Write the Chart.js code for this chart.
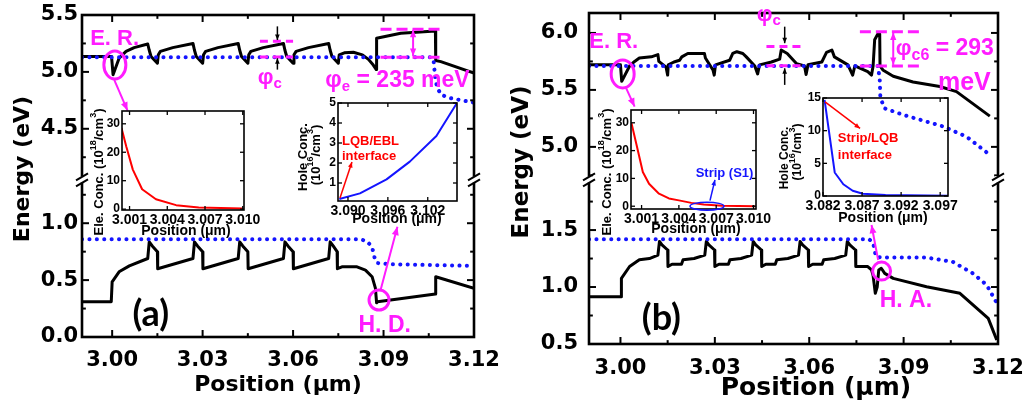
<!DOCTYPE html>
<html>
<head>
<meta charset="utf-8">
<script src="https://cdn.jsdelivr.net/npm/chart.js@4.4.1/dist/chart.umd.min.js"></script>
<style>
  body { margin: 0; background: #fff; }
  #fig { position: relative; width: 1033px; height: 410px; overflow: hidden; background: #fff; }
  #fig canvas { position: absolute; }
</style>
</head>
<body>
<div id="fig"></div>
<script>
// =======================================================
// DATA (positions in um, energies in eV, conc. in the inset units)
// =======================================================
const xTicksMain = [3.00, 3.03, 3.06, 3.09, 3.12];
const xMinorMain = [3.015, 3.045, 3.075, 3.105];

const yTicksA = [0.0, 0.5, 1.0, 4.5, 5.0, 5.5];
const yMinorA = [0.25, 0.75, 1.25, 4.25, 4.75, 5.25];
const yTicksB = [0.5, 1.0, 1.5, 5.0, 5.5, 6.0];
const yMinorB = [0.75, 1.25, 1.75, 4.75, 5.25, 5.75];

// panel (a) conduction band
const cbA_x = [2.990, 2.9998, 3.0003, 3.0023, 3.0046, 3.0073, 3.0118,
  3.0123, 3.0129, 3.0150, 3.0153, 3.0160, 3.0201, 3.0268,
  3.0273, 3.0279, 3.0300, 3.0303, 3.0310, 3.0351, 3.0418,
  3.0423, 3.0429, 3.0450, 3.0453, 3.0460, 3.0501, 3.0568,
  3.0573, 3.0579, 3.0600, 3.0603, 3.0610, 3.0651, 3.0718,
  3.0723, 3.0729, 3.0750, 3.0753, 3.0770, 3.0800, 3.0830, 3.0850, 3.0866, 3.0876,
  3.0877, 3.0957, 3.1072, 3.1073, 3.1090, 3.1200];
const cbA_e = [5.135, 5.135, 4.975, 5.120, 5.180, 5.213, 5.245,
  5.190, 5.135, 5.076, 5.150, 5.180, 5.213, 5.250,
  5.190, 5.135, 5.076, 5.150, 5.180, 5.213, 5.250,
  5.190, 5.135, 5.076, 5.150, 5.180, 5.213, 5.250,
  5.190, 5.135, 5.076, 5.150, 5.180, 5.213, 5.250,
  5.190, 5.135, 5.076, 5.150, 5.168, 5.172, 5.150, 5.110, 5.060, 5.020,
  5.295, 5.340, 5.360, 5.100, 5.090, 4.990];

// panel (a) valence band
const vbA_x = [2.990, 2.9997, 3.0000, 3.0023, 3.0057, 3.0118,
  3.0123, 3.0133, 3.0150, 3.0151, 3.0268,
  3.0273, 3.0283, 3.0300, 3.0301, 3.0418,
  3.0423, 3.0433, 3.0450, 3.0451, 3.0568,
  3.0573, 3.0583, 3.0600, 3.0601, 3.0718,
  3.0723, 3.0733, 3.0746, 3.0747,
  3.0762, 3.0812, 3.0840, 3.0862, 3.0873, 3.0877, 3.0880, 3.1072, 3.1073, 3.1200];
const vbA_e = [0.310, 0.310, 0.485, 0.573, 0.625, 0.690,
  0.836, 0.800, 0.750, 0.600, 0.690,
  0.836, 0.800, 0.750, 0.600, 0.690,
  0.836, 0.800, 0.750, 0.600, 0.690,
  0.836, 0.800, 0.750, 0.600, 0.690,
  0.836, 0.800, 0.750, 0.600,
  0.617, 0.617, 0.588, 0.530, 0.430, 0.300, 0.310, 0.377, 0.530, 0.427];

// panel (a) quasi-Fermi levels
const efA_x = [2.990, 3.1060, 3.1066, 3.1071, 3.1077, 3.1090, 3.1120, 3.1200];
const efA_e = [5.128, 5.128, 5.100, 4.960, 4.870, 4.800, 4.770, 4.730];
const hfA_x = [2.990, 3.0823, 3.0846, 3.0862, 3.0870, 3.0879, 3.0920, 3.1200];
const hfA_e = [0.860, 0.860, 0.840, 0.790, 0.700, 0.650, 0.640, 0.625];

// panel (b) conduction band
const cbB_x = [2.990, 3.0000, 3.0004, 3.0029, 3.0045, 3.0060, 3.0098, 3.0119,
  3.0122, 3.0145, 3.0150, 3.0152, 3.0170, 3.0188, 3.0195, 3.0214, 3.0267,
  3.0270, 3.0294, 3.0298, 3.0302, 3.0347, 3.0357, 3.0370, 3.0389, 3.0400,
  3.0427, 3.0436, 3.0442, 3.0480, 3.0506, 3.0511, 3.0530, 3.0560,
  3.0585, 3.0590, 3.0596, 3.0640, 3.0655, 3.0672, 3.0680,
  3.0723, 3.0738, 3.0745, 3.0786, 3.0798, 3.0803, 3.0808, 3.0818, 3.0824,
  3.0825, 3.0834, 3.0867, 3.0930, 3.1015, 3.1068, 3.1174];
const cbB_e = [5.720, 5.720, 5.575, 5.710, 5.750, 5.780, 5.790, 5.810,
  5.750, 5.700, 5.630, 5.720, 5.745, 5.760, 5.790, 5.820, 5.820,
  5.780, 5.675, 5.630, 5.720, 5.760, 5.820, 5.835, 5.820, 5.790,
  5.710, 5.640, 5.720, 5.745, 5.770, 5.850, 5.820, 5.730,
  5.710, 5.635, 5.720, 5.745, 5.830, 5.850, 5.790,
  5.720, 5.630, 5.710, 5.660, 5.630, 5.710, 5.940, 5.990, 5.990,
  5.710, 5.675, 5.620, 5.570, 5.530, 5.485, 5.270];

// panel (b) valence band
const vbB_x = [2.990, 3.0002, 3.0003, 3.0029, 3.0060, 3.0092, 3.0119,
  3.0124, 3.0132, 3.0150, 3.0151, 3.0164, 3.0194, 3.0199, 3.0234, 3.0268,
  3.0273, 3.0281, 3.0299, 3.0300, 3.0313, 3.0343, 3.0348, 3.0383, 3.0417,
  3.0422, 3.0430, 3.0448, 3.0449, 3.0462, 3.0492, 3.0497, 3.0532, 3.0566,
  3.0571, 3.0579, 3.0597, 3.0598, 3.0611, 3.0641, 3.0646, 3.0681, 3.0716,
  3.0721, 3.0729, 3.0747, 3.0748,
  3.0786, 3.0798, 3.0803, 3.0810, 3.0816, 3.0821, 3.0829, 3.0840, 3.0867, 3.0973, 3.1079, 3.1169, 3.1196];
const vbB_e = [0.915, 0.915, 1.076, 1.180, 1.240, 1.250, 1.280,
  1.400, 1.370, 1.325, 1.180, 1.200, 1.200, 1.240, 1.250, 1.280,
  1.400, 1.370, 1.325, 1.180, 1.200, 1.200, 1.240, 1.250, 1.280,
  1.400, 1.370, 1.325, 1.180, 1.200, 1.200, 1.240, 1.250, 1.280,
  1.400, 1.370, 1.325, 1.180, 1.200, 1.200, 1.240, 1.250, 1.280,
  1.400, 1.370, 1.325, 1.180,
  1.180, 1.150, 1.100, 0.945, 1.000, 1.150, 1.165, 1.120, 1.076, 1.003, 0.945, 0.725, 0.535];

// panel (b) quasi-Fermi levels
const efB_x = [2.990, 3.0818, 3.0824, 3.0826, 3.0838, 3.0900, 3.1025, 3.1100, 3.1174];
const efB_e = [5.710, 5.710, 5.600, 5.440, 5.340, 5.280, 5.180, 5.090, 4.930];
const hfB_x = [2.990, 3.0790, 3.0803, 3.0808, 3.0812, 3.0830, 3.0970, 3.1057, 3.1120, 3.1164, 3.1196];
const hfB_e = [1.420, 1.420, 1.390, 1.320, 1.266, 1.260, 1.260, 1.220, 1.120, 1.018, 0.860];

// insets
const inElecTicks = [3.001, 3.004, 3.007, 3.010];
const inElecY = [0, 10, 20, 30];
const nA_x = [3.00036, 3.00074, 3.00126, 3.0020, 3.0031, 3.0047, 3.0065, 3.0100];
const nA_v = [28.5, 22.0, 13.9, 7.0, 3.5, 1.4, 0.6, 0.25];
const nB_x = [3.00018, 3.00058, 3.0011, 3.0016, 3.0024, 3.0032, 3.0040, 3.0050, 3.0060, 3.0075, 3.0101];
const nB_v = [30.0, 22.4, 12.3, 8.1, 4.5, 2.8, 2.1, 1.2, 0.6, 0.15, 0.0];

const inHoleA_xt = [3.090, 3.096, 3.102];
const inHoleA_yt = [1, 2, 3, 4, 5];
const pA_x = [3.0887, 3.0918, 3.0958, 3.0993, 3.1033, 3.1063];
const pA_v = [0.2, 0.48, 1.18, 2.07, 3.35, 4.95];

const inHoleB_xt = [3.082, 3.087, 3.092, 3.097];
const inHoleB_yt = [0, 5, 10, 15];
const pB_x = [3.0822, 3.0835, 3.0846, 3.0858, 3.0871, 3.0900, 3.0984];
const pB_v = [14.7, 3.6, 1.8, 0.8, 0.35, 0.15, 0.05];

// =======================================================
// STYLE HELPERS
// =======================================================
const MAG = '#ff1cff', BLUE = '#1414ff', RED = '#ff0000', BLACK = '#000';
const ARIAL = '"Liberation Sans", Arial, sans-serif';
const DV = '"DejaVu Sans", sans-serif';
const fnt = (px, fam) => `bold ${px}px ${fam || ARIAL}`;

// broken y axis: energies above the gap are shifted down onto the lower range
const makeBreak = (lo, hi) => e => (e <= lo ? e : e - (hi - lo));
const brkA = makeBreak(1.38, 4.05);
const brkB = makeBreak(1.94, 4.71);
const ident = e => e;

const fig = document.getElementById('fig');
function addCanvas(l, t, w, h) {
    const c = document.createElement('canvas');
    c.width = w; c.height = h;
    c.style.left = l + 'px'; c.style.top = t + 'px';
    c.style.width = w + 'px'; c.style.height = h + 'px';
    fig.appendChild(c);
    return c;
}

// text made of pieces (sub/superscripts), parts = [text, font, dy]
function drawParts(ctx, x, y, parts, o = {}) {
    ctx.save();
    ctx.translate(x, y);
    if (o.rot) ctx.rotate(o.rot * Math.PI / 180);
    ctx.fillStyle = o.color || BLACK;
    ctx.textBaseline = o.baseline || 'alphabetic';
    ctx.textAlign = 'left';
    let w = 0;
    parts.forEach(p => { ctx.font = p[1]; w += ctx.measureText(p[0]).width; });
    let cx = o.align === 'center' ? -w / 2 : 0;
    parts.forEach(p => {
        ctx.font = p[1];
        ctx.fillText(p[0], cx, p[2] || 0);
        cx += ctx.measureText(p[0]).width;
    });
    ctx.restore();
}

function arrowHead(ctx, x1, y1, x2, y2, hs) {
    const a = Math.atan2(y2 - y1, x2 - x1);
    ctx.beginPath();
    ctx.moveTo(x2, y2);
    ctx.lineTo(x2 - hs * Math.cos(a - 0.4), y2 - hs * Math.sin(a - 0.4));
    ctx.lineTo(x2 - hs * Math.cos(a + 0.4), y2 - hs * Math.sin(a + 0.4));
    ctx.closePath();
    ctx.fill();
}

function drawNote(ctx, n, P) {
    const col = n.color || BLACK;
    ctx.save();
    ctx.strokeStyle = col; ctx.fillStyle = col;
    ctx.lineWidth = n.w || 2;
    if (n.t === 'text') {
        const [x, y] = P(...n.at);
        drawParts(ctx, x, y, n.parts, { color: col, align: n.align, baseline: n.baseline });
    } else if (n.t === 'ell') {
        const [x, y] = P(...n.at);
        ctx.beginPath();
        ctx.ellipse(x, y, n.rx, n.ry, 0, 0, 2 * Math.PI);
        ctx.stroke();
    } else if (n.t === 'seg') {
        const [x1, y1] = P(...n.from), [x2, y2] = P(...n.to);
        ctx.setLineDash(n.dash || []);
        ctx.beginPath(); ctx.moveTo(x1, y1); ctx.lineTo(x2, y2); ctx.stroke();
        ctx.setLineDash([]);
        const hs = n.hs || 9;
        if (n.head >= 1) arrowHead(ctx, x1, y1, x2, y2, hs);
        if (n.head === 2) arrowHead(ctx, x2, y2, x1, y1, hs);
    }
    ctx.restore();
}

// frame with inward ticks, axis break marks, notes and axis titles
function framePlugin(p) {
    return {
        id: 'frame',
        afterDraw(chart) {
            const ctx = chart.ctx, xs = chart.scales.x, ys = chart.scales.y;
            const { left, right, top, bottom } = chart.chartArea;
            const P = (x, e) => [xs.getPixelForValue(x), ys.getPixelForValue(p.brk(e))];
            const line = (x1, y1, x2, y2) => { ctx.beginPath(); ctx.moveTo(x1, y1); ctx.lineTo(x2, y2); ctx.stroke(); };
            ctx.save();
            ctx.strokeStyle = BLACK;
            ctx.lineWidth = p.tickW;
            [[p.xTicks, p.tickLen], [p.xMinor || [], p.tickLen * 0.55]].forEach(([vals, len]) => vals.forEach(v => {
                const px = xs.getPixelForValue(v);
                line(px, bottom, px, bottom - len);
                line(px, top, px, top + len);
            }));
            [[p.yTicks, p.tickLen], [p.yMinor || [], p.tickLen * 0.55]].forEach(([vals, len]) => vals.forEach(v => {
                const py = ys.getPixelForValue(p.brk(v));
                line(left, py, left + len, py);
                line(right, py, right - len, py);
            }));
            ctx.lineWidth = p.frameW;
            ctx.strokeRect(left, top, right - left, bottom - top);
            if (p.breakAt !== undefined) {
                const by = ys.getPixelForValue(p.breakAt);
                [left, right].forEach(ax => {
                    ctx.fillStyle = '#fff';
                    ctx.fillRect(ax - 3, by - 3.5, 6, 6);
                    ctx.lineWidth = 2;
                    line(ax - 6, by + 0.5, ax + 6, by - 6.5);
                    line(ax - 6, by + 6.5, ax + 6, by - 0.5);
                });
            }
            (p.notes || []).forEach(n => drawNote(ctx, n, P));
            (p.titles || []).forEach(t => drawParts(ctx, t.x - p.box.l, t.y - p.box.t, t.parts,
                { align: 'center', baseline: 'middle', rot: t.rot, color: BLACK }));
            ctx.restore();
        }
    };
}

// one chart (main panel or inset) placed so its plot area sits on p.plot (page px)
function makePanel(p) {
    const { box, plot } = p;
    const cv = addCanvas(box.l, box.t, box.w, box.h);
    return new Chart(cv, {
        type: 'line',
        data: {
            datasets: p.series.map(s => ({
                data: s.x.map((x, i) => ({ x: x, y: p.brk(s.v[i]) })),
                borderColor: s.color,
                borderWidth: s.w,
                borderDash: s.dash || [],
                borderCapStyle: s.dash ? 'round' : 'butt',
                borderJoinStyle: 'round',
                pointRadius: 0,
                tension: 0,
                fill: false
            }))
        },
        options: {
            responsive: false,
            animation: false,
            devicePixelRatio: 1,
            events: [],
            layout: { padding: { left: 0, top: plot.t - box.t, right: box.l + box.w - plot.r, bottom: 0 } },
            plugins: { legend: { display: false }, tooltip: { enabled: false } },
            scales: {
                x: {
                    type: 'linear', min: p.xMin, max: p.xMax,
                    grid: { display: false, drawTicks: false }, border: { display: false },
                    ticks: {
                        font: p.xFont, color: BLACK, padding: p.xPad, maxRotation: 0, autoSkip: false,
                        callback: (v, i) => p.xTicks[i].toFixed(p.xDec)
                    },
                    afterBuildTicks: s => { s.ticks = p.xTicks.map(v => ({ value: v })); },
                    afterFit: s => { s.height = box.t + box.h - plot.b; s.paddingLeft = 0; s.paddingRight = 0; }
                },
                y: {
                    type: 'linear', min: p.yMin, max: p.yMax,
                    grid: { display: false, drawTicks: false }, border: { display: false },
                    ticks: {
                        font: p.yFont, color: BLACK, padding: p.yPad, autoSkip: false,
                        callback: (v, i) => p.yTicks[i].toFixed(p.yDec)
                    },
                    afterBuildTicks: s => { s.ticks = p.yTicks.map(v => ({ value: p.brk(v) })); },
                    afterFit: s => { s.width = plot.l - box.l; s.paddingTop = 0; s.paddingBottom = 0; }
                }
            }
        },
        plugins: [framePlugin(p)]
    });
}

const mainTick = { family: 'DejaVu Sans', size: 21, weight: 'bold' };
const inX = { family: 'Liberation Sans', size: 14, weight: 'bold' };
const inY = { family: 'Liberation Sans', size: 12, weight: 'bold' };
const dots = [0.1, 7.3];
const elecTitle = (x, y) => ({ x: x, y: y, rot: -90, parts: [['Ele. Conc. (10', fnt(13)], ['18', fnt(9), -5], ['/cm', fnt(13)], ['3', fnt(9), -5], [')', fnt(13)]] });
const holeTitle = (x1, y1, x2, y2, sz) => [
    { x: x1, y: y1, rot: -90, parts: [['Hole Conc.', fnt(sz)]] },
    { x: x2, y: y2, rot: -90, parts: [['(10', fnt(sz)], ['16', fnt(9), -5], ['/cm', fnt(sz)], ['3', fnt(9), -5], [')', fnt(sz)]] }
];
const posTitle = (x, y, sz, fam) => ({ x: x, y: y, parts: [['Position (μm)', fnt(sz, fam)]] });

// =======================================================
// PANEL (a)
// =======================================================
makePanel({
    box: { l: 0, t: 0, w: 505, h: 410 }, plot: { l: 82, t: 15, r: 474, b: 337 },
    brk: brkA, breakAt: 1.38,
    xMin: 2.99, xMax: 3.12, yMin: 0, yMax: brkA(5.5),
    xTicks: xTicksMain, xMinor: xMinorMain, yTicks: yTicksA, yMinor: yMinorA,
    xDec: 2, yDec: 1, xFont: mainTick, yFont: mainTick, xPad: 11, yPad: 4,
    frameW: 2.6, tickW: 2, tickLen: 7,
    series: [
        { x: efA_x, v: efA_e, color: BLUE, w: 4, dash: dots },
        { x: hfA_x, v: hfA_e, color: BLUE, w: 4, dash: dots },
        { x: cbA_x, v: cbA_e, color: BLACK, w: 3 },
        { x: vbA_x, v: vbA_e, color: BLACK, w: 3 }
    ],
    notes: [
        { t: 'text', at: [2.9927, 5.237], parts: [['E. R.', fnt(22)]], color: MAG },
        { t: 'ell', at: [3.0009, 5.061], rx: 11, ry: 14, color: MAG, w: 3 },
        { t: 'seg', from: [3.0007, 4.93], to: [3.0051, 4.66], color: MAG, w: 2, head: 1 },
        { t: 'seg', from: [3.049, 5.27], to: [3.060, 5.27], color: MAG, w: 3, dash: [8, 5] },
        { t: 'seg', from: [3.049, 5.13], to: [3.060, 5.13], color: MAG, w: 3, dash: [8, 5] },
        { t: 'seg', from: [3.0548, 5.40], to: [3.0548, 5.28], color: BLACK, w: 1.5, head: 1, hs: 6 },
        { t: 'seg', from: [3.0548, 5.02], to: [3.0548, 5.12], color: BLACK, w: 1.5, head: 1, hs: 6 },
        { t: 'text', at: [3.0483, 4.895], parts: [['φ', fnt(22)], ['c', fnt(15), 4]], color: MAG },
        { t: 'seg', from: [3.089, 5.375], to: [3.109, 5.375], color: MAG, w: 3, dash: [11, 5] },
        { t: 'seg', from: [3.089, 5.129], to: [3.109, 5.129], color: MAG, w: 3, dash: [11, 5] },
        { t: 'seg', from: [3.0998, 5.37], to: [3.0998, 5.14], color: MAG, w: 2, head: 2, hs: 8 },
        { t: 'text', at: [3.0707, 4.868], parts: [['φ', fnt(23)], ['e', fnt(15), 4], [' = 235 meV', fnt(23)]], color: MAG },
        { t: 'ell', at: [3.0885, 0.325], rx: 10, ry: 10, color: MAG, w: 3 },
        { t: 'seg', from: [3.089, 0.41], to: [3.0946, 0.968], color: MAG, w: 2, head: 1 },
        { t: 'text', at: [3.0817, 0.044], parts: [['H. D.', fnt(23)]], color: MAG },
        { t: 'text', at: [3.0128, 0.20], parts: [['(a)', 'bold 36px Lato, sans-serif']], align: 'center', baseline: 'middle', color: BLACK }
    ],
    titles: [
        { x: 23, y: 169, rot: -90, parts: [['Energy (eV)', fnt(22, DV)]] },
        posTitle(278, 385, 22, DV)
    ]
});

// =======================================================
// PANEL (b)
// =======================================================
makePanel({
    box: { l: 505, t: 0, w: 528, h: 410 }, plot: { l: 589, t: 13, r: 998, b: 344 },
    brk: brkB, breakAt: 1.94,
    xMin: 2.99, xMax: 3.12, yMin: 0.5, yMax: brkB(6.175),
    xTicks: xTicksMain, xMinor: xMinorMain, yTicks: yTicksB, yMinor: yMinorB,
    xDec: 2, yDec: 1, xFont: mainTick, yFont: mainTick, xPad: 12, yPad: 11,
    frameW: 2.6, tickW: 2, tickLen: 7,
    series: [
        { x: efB_x, v: efB_e, color: BLUE, w: 4, dash: dots },
        { x: hfB_x, v: hfB_e, color: BLUE, w: 4, dash: dots },
        { x: cbB_x, v: cbB_e, color: BLACK, w: 3 },
        { x: vbB_x, v: vbB_e, color: BLACK, w: 3 }
    ],
    notes: [
        { t: 'text', at: [2.9901, 5.868], parts: [['E. R.', fnt(22)]], color: MAG },
        { t: 'ell', at: [3.0007, 5.64], rx: 11.5, ry: 14, color: MAG, w: 3 },
        { t: 'seg', from: [3.0018, 5.515], to: [3.0045, 5.354], color: MAG, w: 2, head: 1 },
        { t: 'text', at: [3.0433, 6.105], parts: [['φ', fnt(22)], ['c', fnt(15), 4]], color: MAG },
        { t: 'seg', from: [3.0464, 5.88], to: [3.058, 5.88], color: MAG, w: 3, dash: [8, 5] },
        { t: 'seg', from: [3.0464, 5.713], to: [3.058, 5.713], color: MAG, w: 3, dash: [8, 5] },
        { t: 'seg', from: [3.0522, 6.055], to: [3.0522, 5.91], color: BLACK, w: 1.5, head: 1, hs: 6 },
        { t: 'seg', from: [3.0522, 5.544], to: [3.0522, 5.69], color: BLACK, w: 1.5, head: 1, hs: 6 },
        { t: 'seg', from: [3.0761, 6.011], to: [3.0961, 6.011], color: MAG, w: 3, dash: [11, 5] },
        { t: 'seg', from: [3.0761, 5.71], to: [3.0961, 5.71], color: MAG, w: 3, dash: [11, 5] },
        { t: 'seg', from: [3.0867, 6.003], to: [3.0867, 5.72], color: MAG, w: 2, head: 2, hs: 8 },
        { t: 'text', at: [3.0875, 5.807], parts: [['φ', fnt(22)], ['c6', fnt(16), 5], [' = 293', fnt(23)]], color: MAG },
        { t: 'text', at: [3.1009, 5.50], parts: [['meV', fnt(25)]], color: MAG },
        { t: 'ell', at: [3.083, 1.14], rx: 9, ry: 9, color: MAG, w: 3 },
        { t: 'seg', from: [3.0819, 1.237], to: [3.0798, 1.544], color: MAG, w: 2, head: 1 },
        { t: 'text', at: [3.0824, 0.825], parts: [['H. A.', fnt(23)]], color: MAG },
        { t: 'text', at: [3.013, 0.728], parts: [['(b)', 'bold 36px Lato, sans-serif']], align: 'center', baseline: 'middle', color: BLACK }
    ],
    titles: [
        { x: 522, y: 162, rot: -90, parts: [['Energy (eV)', fnt(23, DV)]] },
        posTitle(816, 388, 25, DV)
    ]
});

// =======================================================
// INSETS
// =======================================================
function insetBox(plot) {
    return { l: plot.l - 56, t: plot.t - 12, w: plot.r - plot.l + 80, h: plot.b - plot.t + 58 };
}
function makeInset(p) {
    makePanel(Object.assign({
        box: insetBox(p.plot), brk: ident,
        xDec: 3, yDec: 0, xFont: inX, yFont: inY, xPad: 2, yPad: 2,
        frameW: 1.6, tickW: 1.3, tickLen: 4
    }, p));
}

// (a) electrons
makeInset({
    plot: { l: 122, t: 111, r: 244, b: 210 },
    xMin: 3.0004, xMax: 3.0101, yMin: -0.3, yMax: 34.5,
    xTicks: inElecTicks, yTicks: inElecY,
    series: [{ x: nA_x, v: nA_v, color: RED, w: 2 }],
    titles: [elecTitle(99, 172), posTitle(186, 231, 14)]
});

// (a) holes
makeInset({
    plot: { l: 338, t: 103, r: 457, b: 201 },
    xMin: 3.0885, xMax: 3.1064, yMin: 0.1, yMax: 5,
    xTicks: inHoleA_xt, yTicks: inHoleA_yt,
    series: [{ x: pA_x, v: pA_v, color: BLUE, w: 2 }],
    notes: [
        { t: 'text', at: [3.0891, 2.9], parts: [['LQB/EBL', fnt(13)]], color: RED },
        { t: 'text', at: [3.0891, 2.15], parts: [['interface', fnt(13)]], color: RED },
        { t: 'seg', from: [3.0888, 0.25], to: [3.0906, 2.05], color: RED, w: 1.5, head: 1, hs: 6 }
    ],
    titles: holeTitle(303, 157, 316, 155, 13).concat([posTitle(397, 219, 14)])
});

// (b) electrons
makeInset({
    plot: { l: 631, t: 110, r: 756, b: 209 },
    xMin: 3.00015, xMax: 3.0102, yMin: -1, yMax: 34.6,
    xTicks: inElecTicks, yTicks: inElecY,
    series: [{ x: nB_x, v: nB_v, color: RED, w: 2 }],
    notes: [
        { t: 'ell', at: [3.00626, 0], rx: 17, ry: 4, color: BLUE, w: 1.5 },
        { t: 'seg', from: [3.0065, 2.0], to: [3.0069, 9.5], color: BLUE, w: 1.5, head: 1, hs: 6 },
        { t: 'text', at: [3.00767, 11.95], parts: [['Strip (S1)', fnt(13)]], align: 'center', baseline: 'middle', color: BLUE }
    ],
    titles: [elecTitle(607, 172), posTitle(696, 229, 14)]
});

// (b) holes
makeInset({
    plot: { l: 823, t: 98, r: 948, b: 196 },
    xMin: 3.082, xMax: 3.098, yMin: 0, yMax: 15,
    xTicks: inHoleB_xt, yTicks: inHoleB_yt,
    series: [{ x: pB_x, v: pB_v, color: BLUE, w: 2 }],
    notes: [
        { t: 'text', at: [3.0839, 8.2], parts: [['Strip/LQB', fnt(13)]], color: RED },
        { t: 'text', at: [3.0839, 5.7], parts: [['interface', fnt(13)]], color: RED },
        { t: 'seg', from: [3.08226, 14.4], to: [3.08674, 10.35], color: RED, w: 1.5, head: 1, hs: 6 }
    ],
    titles: holeTitle(785, 158, 798, 152, 12).concat([posTitle(883, 218, 14)])
});
</script>
</body>
</html>
